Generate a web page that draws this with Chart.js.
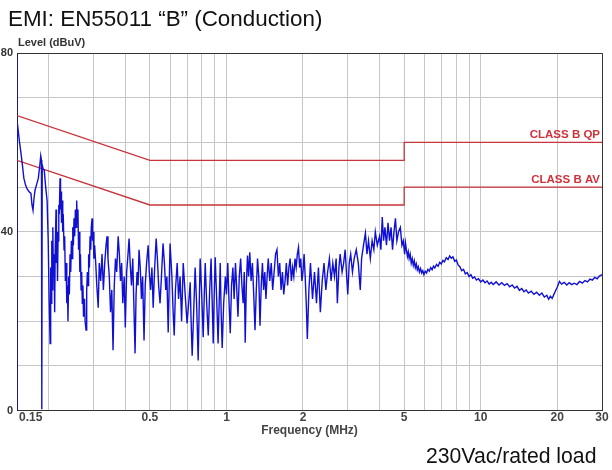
<!DOCTYPE html>
<html>
<head>
<meta charset="utf-8">
<script src="https://cdn.jsdelivr.net/npm/chart.js@4.4.1/dist/chart.umd.min.js"></script>
<style>
  body { margin: 0; background: #fff; }
  #wrap { position: relative; width: 612px; height: 470px; font-family: "Liberation Sans", Arial, sans-serif; }
  #wrap canvas { position: absolute; left: 0; top: 0; }
  .txt { position: absolute; white-space: nowrap; }
  #title { left: 8px; top: 8px; font-size: 22.4px; line-height: 22px; color: #111; }
  #ylab { left: 18px; top: 37px; font-size: 11px; line-height: 11px; font-weight: bold; color: #333; }
  #note { left: 426px; top: 445px; font-size: 21.2px; line-height: 21px; color: #111; }
</style>
</head>
<body>
<div id="wrap">
  <canvas id="myChart" width="612" height="470"></canvas>
  <div class="txt" id="title">EMI: EN55011 “B” (Conduction)</div>
  <div class="txt" id="ylab">Level (dBuV)</div>
  <div class="txt" id="note">230Vac/rated load</div>
</div>
<script>
// measured trace, frequency in MHz
var freqMHz = [
  0.150,0.1514,0.1535,0.1555,0.1575,0.1596,0.162,0.164,0.167,0.1702,
  0.1718,0.1734,0.175,0.1766,0.179,0.182,0.1845,0.186,0.1872,0.1878,
  0.1885,0.190,0.192,0.1945,0.197,0.199,0.2005,
  0.2025,0.2035,0.2045,0.2055,0.2065,0.2075,0.2085,0.2098,0.211,0.212,
  0.2136,0.2145,0.2155,0.2165,0.2175,0.219,0.220,0.2215,0.2225,0.2235,
  0.2245,0.2256,0.227,0.228,0.2297,0.231,0.2325,0.234,0.2355,0.237,
  0.238,0.2395,0.241,0.2425,0.244,0.2455,0.247,0.2485,0.250,0.2514,
  0.253,0.2545,0.256,0.2575,0.259,0.2605,0.262,0.2635,0.265,0.2665,
  0.268,0.2695,0.271,0.2725,0.274,0.2765,0.278,0.2803,0.282,0.2837,
  0.2855,0.287,0.289,0.2907,0.2925,0.294,0.296,0.2975,0.299,0.301,
  0.303,0.306,0.309,0.313,0.316,0.320,0.324,0.328,0.332,0.336,
  0.339,0.342,0.346,0.350,0.354,0.358,0.362,0.366,0.370,0.375,
  0.379,0.383,0.387,0.391,0.396,0.400,0.405,0.410,0.414,0.418,
  0.423,0.428,0.433,0.437,0.441,0.445,0.449,0.453,0.458,0.463,
  0.468,0.474,0.479,0.485,0.492,0.497,0.503,0.509,0.515,0.521,
  0.529,0.535,0.541,0.548,0.555,0.563,0.570,0.577,0.583,0.590,
  0.600,0.610,0.617,0.623,0.630,0.640,0.648,0.657,0.666,0.676,
  0.688,0.700,0.710,0.720,0.726,0.733,0.743,0.753,0.763,0.774,
  0.781,0.788,0.798,0.810,0.818,0.825,0.836,0.848,0.859,0.870,
  0.878,0.887,0.895,0.903,0.915,0.927,0.936,0.945,0.953,0.962,
  0.975,0.990,1.000,1.012,1.024,1.035,1.047,1.060,1.072,1.085,
  1.098,1.110,1.123,1.137,1.150,1.163,1.175,1.185,1.197,1.210,
  1.222,1.235,1.250,1.265,1.280,1.295,1.310,1.325,1.340,1.355,
  1.370,1.385,1.400,1.415,1.430,1.445,1.460,1.480,1.500,1.520,
  1.540,1.560,1.580,1.600,1.620,1.640,1.660,1.680,1.700,1.720,
  1.740,1.760,1.780,1.800,1.820,1.840,1.860,1.880,1.900,1.920,
  1.940,1.960,1.980,2.000,
  2.020,2.040,2.060,2.080,2.110,2.140,2.180,2.220,2.260,2.300,
  2.340,2.380,2.420,2.460,2.500,2.540,2.580,2.620,2.660,2.700,
  2.730,2.770,2.800,2.850,2.890,2.930,2.970,3.000,3.040,3.080,
  3.130,3.180,3.240,3.300,3.360,3.400,3.460,3.520,3.570,3.620,
  3.680,3.740,3.800,3.850,3.920,4.000,4.050,4.100,4.150,4.200,
  4.260,4.320,4.380,4.440,4.500,4.560,4.620,4.680,4.750,4.830,
  4.900,4.960,
  5.020,5.060,5.100,5.150,5.190,5.230,5.280,5.330,5.380,5.430,
  5.480,5.530,5.580,5.630,5.680,5.740,5.800,5.860,5.920,5.980,
  6.050,6.120,6.200,6.280,6.360,6.440,6.520,6.600,6.700,6.800,
  6.900,7.000,7.100,7.200,7.320,7.440,7.550,7.660,7.780,7.900,
  8.020,8.150,8.280,8.420,8.560,8.700,8.850,9.000,9.150,9.300,
  9.460,9.620,9.800,10.00,10.20,10.40,10.60,10.80,11.00,11.20,
  11.50,11.80,12.10,12.40,12.70,13.00,13.30,13.60,13.90,14.20,
  14.50,14.80,15.10,15.40,15.80,16.20,16.60,17.00,17.40,17.80,
  18.20,18.50,18.80,19.10,19.40,19.70,20.00,20.40,20.80,21.30,
  21.80,22.30,22.80,23.30,23.90,24.50,25.10,25.70,26.30,26.90,
  27.50,28.10,28.70,29.30,30.00
];
var levelDbuV = [
  61,63,60,57.6,55,52,50.5,49.7,49,48.6,
  46,44.8,47.5,49.3,50.5,52,55,57,56,0.3,
  55,54,53.8,50,47,38,26,
  15,32,24,38,27,41,30,35,22,36,
  45,33,40,29,38,46,44,52,45,49,
  42,47,40,44,36,39,29,33,24,28,
  20,30,26,35,31,38,34,41,37,43,
  39,45,41,47,42,45,36,40,31,35,
  27,31,24,28,21,25,20,18,27,31,
  28,35,32,39,36,41,43,38,40,34,
  37,33,28,23,33,29,35,27,33,37,
  39,34,30,22,27,13.5,28,34,31,39,
  35,29,33,24,30,18.6,31,35,38.5,33,
  28,34,22,12.8,26,31,28,36,32,25,
  30,15.7,28,33,37,31,27,32,23,31,
  38.5,34,28,24,30,37.4,33,27,30,17.5,
  37.4,30,22,16.8,27,33,25,30,20,33,
  26,19.5,24,28.7,20,12.3,22,32,24,11.2,
  23,34,27,16.4,26,33,24,16.8,27,34,
  25,15,26,34.3,25,15,24,33,22,14,
  24,30,26,33,24,17.3,28,32,25,33,
  27,21,30,34,28,24,31,15.2,28,34.7,
  30,35.4,29,33,26,18,27,34,30,19,
  28,33,27,31,25,30,34,29,33,27,
  31,35,36,30,33,27,31,26,29,33,
  28,32,34,29,32,30,34,32,35,36.5,
  32,34,29,31,
  35,30,24,16,27,33,25,31,24,32,
  22,29,33,27,31,34,29,33,30,34,
  24,32,35,31,33,36,30,26,33,35,
  31,34,36,33,27,34,37,39.7,35,38,
  34,38,36,40,37,39,36,43.3,38,41,
  37,42,38,41,36,40,43,38,40,41,
  37,38,
  35,37.5,36,34.5,35.5,34,35,33,34,32.5,
  33.5,32,32.8,31.5,32.2,31,31.8,30.8,31.3,30.4,
  31.2,30.8,31.6,31.2,32,31.5,32.3,31.9,32.7,32.3,
  33.2,32.8,33.6,33.3,34.2,33.8,34.6,34.1,34.4,33.4,
  33.7,32.6,32.2,31.3,31.6,30.6,30.9,30,30.4,29.6,
  29.9,29.2,29.5,28.8,29.2,28.6,29,28.3,28.7,28.2,
  28.8,28.1,28.6,28,28.4,27.7,28.1,27.4,27.8,26.9,
  27.3,26.6,27,26.3,26.7,26,26.5,25.8,26.3,25.4,
  25.8,24.9,25.6,25.1,26,26.8,27.6,28.9,28.3,28.7,
  28.1,28.6,28.2,28.5,28.2,28.9,28.5,29.1,28.8,29.4,
  29.2,29.8,29.5,30.1,30.4
];

// EN55011 class B limit lines
var limitFreq = [0.15, 0.5, 5, 5, 30];
var limitQP = [66, 56, 56, 60, 60];
var limitAV = [56, 46, 46, 50, 50];

var xGrid = [0.15,0.2,0.3,0.4,0.5,0.6,0.7,0.8,0.9,1,2,3,4,5,6,7,8,9,10,20,30];
var xLabels = [0.5, 1, 2, 5, 10, 20, 30];
var yLabels = [0, 40, 80];

function pairs(xs, ys) {
    var out = [];
    var n = Math.min(xs.length, ys.length);
    for (var i = 0; i < n; i++) out.push({x: xs[i], y: ys[i]});
    return out;
}

var fontFamily = '"Liberation Sans", Arial, sans-serif';

var extras = {
    id: 'extras',
    afterDraw: function(chart) {
        var c = chart.ctx, a = chart.chartArea;
        var xs = chart.scales.x, ys = chart.scales.y;
        c.save();
        // frame on top and right
        c.strokeStyle = '#333';
        c.lineWidth = 1;
        c.beginPath();
        c.moveTo(a.left, a.top + 0.5);
        c.lineTo(a.right + 0.5, a.top + 0.5);
        c.lineTo(a.right + 0.5, a.bottom);
        c.stroke();
        // limit labels
        c.fillStyle = '#d0323c';
        c.font = 'bold 11.5px ' + fontFamily;
        c.textAlign = 'right';
        c.textBaseline = 'alphabetic';
        c.fillText('CLASS B QP', a.right - 2, ys.getPixelForValue(limitQP[4]) - 4);
        c.fillText('CLASS B AV', a.right - 2, ys.getPixelForValue(limitAV[4]) - 4);
        // first frequency label sits left-aligned at the axis start
        c.fillStyle = '#444';
        c.font = 'bold 12px ' + fontFamily;
        c.textAlign = 'left';
        c.textBaseline = 'middle';
        c.fillText('0.15', xs.getPixelForValue(0.15) + 2, xs.top + 7);
        c.restore();
    }
};

var ctx = document.getElementById('myChart').getContext('2d');
var chart = new Chart(ctx, {
    type: 'line',
    data: {
        datasets: [{
            label: 'Level',
            data: pairs(freqMHz, levelDbuV),
            borderColor: '#1010d4',
            borderWidth: 1.4,
            pointRadius: 0,
            tension: 0
        }, {
            label: 'CLASS B QP',
            data: pairs(limitFreq, limitQP),
            borderColor: '#c8343c',
            borderWidth: 1.3,
            pointRadius: 0
        }, {
            label: 'CLASS B AV',
            data: pairs(limitFreq, limitAV),
            borderColor: '#c8343c',
            borderWidth: 1.3,
            pointRadius: 0
        }]
    },
    options: {
        responsive: false,
        animation: false,
        layout: { padding: { top: 53, right: 10, left: 0, bottom: 29 } },
        plugins: { legend: { display: false }, tooltip: { enabled: false } },
        scales: {
            x: {
                type: 'logarithmic',
                min: 0.15,
                max: 30,
                afterBuildTicks: function(scale) {
                    scale.ticks = xGrid.map(function(v) { return {value: v}; });
                },
                ticks: {
                    autoSkip: false,
                    maxRotation: 0,
                    padding: 0,
                    color: '#444',
                    font: { family: fontFamily, size: 12, weight: 'bold' },
                    callback: function(v) { return xLabels.indexOf(v) >= 0 ? String(v) : ''; }
                },
                grid: { color: '#c6c6c6', drawTicks: false },
                border: { color: '#333' },
                title: {
                    display: true,
                    text: 'Frequency (MHz)',
                    color: '#444',
                    font: { family: fontFamily, size: 12, weight: 'bold', lineHeight: 1 },
                    padding: { top: 0, bottom: 4 }
                }
            },
            y: {
                min: 0,
                max: 80,
                afterFit: function(scale) { scale.width = 17; },
                ticks: {
                    stepSize: 10,
                    padding: 4,
                    color: '#333',
                    font: { family: fontFamily, size: 11, weight: 'bold' },
                    callback: function(v) { return yLabels.indexOf(v) >= 0 ? String(v) : ''; }
                },
                grid: { color: '#c6c6c6', drawTicks: false },
                border: { color: '#1c1c6c' }
            }
        }
    },
    plugins: [extras]
});
</script>
</body>
</html>
